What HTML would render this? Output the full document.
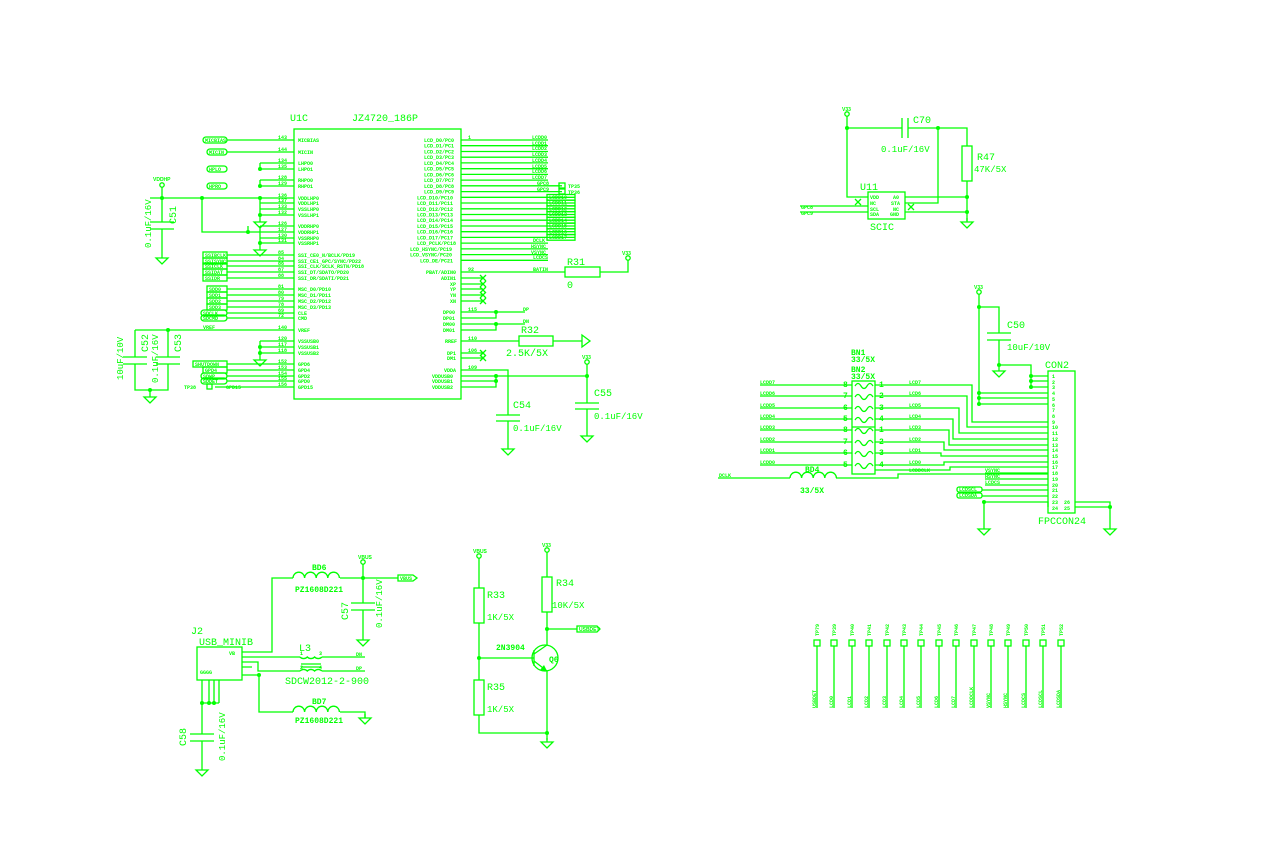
<!DOCTYPE html>
<html><head><meta charset="utf-8"><style>
html,body{margin:0;padding:0;background:#fff;}
svg{display:block}
.l{stroke:#00ff00;stroke-width:1.3;fill:none}
.f{fill:#00ff00}
text{fill:#00ff00;font-family:"Liberation Mono","DejaVu Sans Mono",monospace}
.b{font-size:10px}
.s{font-size:5px;font-weight:bold;font-family:"Liberation Sans",sans-serif}
.m{font-size:8px;font-weight:bold}
</style></head><body>
<svg width="1280" height="850" viewBox="0 0 1280 850" xmlns="http://www.w3.org/2000/svg">
<defs>
<g id="gnd"><path class="l" d="M0 0 V4 M-6 4 H6 L0 10 Z"/></g>
<g id="pwr"><circle class="l" cx="0" cy="0" r="2.2"/></g>
<g id="dot"><circle class="f" cx="0" cy="0" r="2"/></g>
<g id="ind"><path class="l" d="M0 0 a5.8 5.8 0 0 1 11.6 0 a5.8 5.8 0 0 1 11.6 0 a5.8 5.8 0 0 1 11.6 0 a5.8 5.8 0 0 1 11.6 0"/></g>
</defs>

<text class="b" x="290" y="121">U1C</text>
<text class="b" x="352" y="121">JZ4720_186P</text>
<rect class="l" x="294" y="129" width="167" height="270"/>
<path class="l" d="M227 140H294M227 152H294M260 163H294M260 169H294M260 180H294M260 186H294M150 198H294M260 203H294M260 209H294M260 215H294M260 226H294M250 232H294M260 238H294M260 243H294M227 255H294M227 261H294M227 266H294M227 272H294M227 278H294M227 289H294M227 295H294M227 301H294M227 307H294M227 313H294M227 318H294M135 330H294M260 341H294M260 347H294M260 353H294M227 364H294M227 370H294M227 376H294M227 381H294M215 387H294"/>
<path class="l" d="M260 163V169M260 180V186M260 198V215M248 226V232M202 198V232H248M260 226V243M260 341V353M260 209V218M260 238V246M260 353V356"/>
<use href="#dot" x="260" y="169"/><use href="#dot" x="260" y="186"/><use href="#dot" x="260" y="198"/><use href="#dot" x="202" y="198"/><use href="#dot" x="162" y="198"/><use href="#dot" x="248" y="232"/><use href="#dot" x="260" y="215"/><use href="#dot" x="260" y="243"/><use href="#dot" x="260" y="347"/><use href="#dot" x="260" y="353"/><use href="#dot" x="168" y="330"/>
<use href="#gnd" x="260" y="218"/><use href="#gnd" x="260" y="246"/><use href="#gnd" x="260" y="356"/>
<g class="s">
<text x="298" y="142">MICBIAS</text><text x="298" y="154">MICIN</text><text x="298" y="165">LHPO0</text><text x="298" y="171">LHPO1</text><text x="298" y="182">RHPO0</text><text x="298" y="188">RHPO1</text><text x="298" y="200">VDDLHP0</text><text x="298" y="205">VDDLHP1</text><text x="298" y="211">VSSLHP0</text><text x="298" y="217">VSSLHP1</text><text x="298" y="228">VDDRHP0</text><text x="298" y="234">VDDRHP1</text><text x="298" y="240">VSSRHP0</text><text x="298" y="245">VSSRHP1</text><text x="298" y="257">SSI_CE0_N/BCLK/PD19</text><text x="298" y="263">SSI_CE1_GPC/SYNC/PD22</text><text x="298" y="268">SSI_CLK/SCLK_RSTN/PD18</text><text x="298" y="274">SSI_DT/SDATO/PD20</text><text x="298" y="280">SSI_DR/SDATI/PD21</text><text x="298" y="291">MSC_D0/PD10</text><text x="298" y="297">MSC_D1/PD11</text><text x="298" y="303">MSC_D2/PD12</text><text x="298" y="309">MSC_D3/PD13</text><text x="298" y="315">CLE</text><text x="298" y="320">CMD</text><text x="298" y="332">VREF</text><text x="298" y="343">VSSUSB0</text><text x="298" y="349">VSSUSB1</text><text x="298" y="355">VSSUSB2</text><text x="298" y="366">GPD6</text><text x="298" y="372">GPD4</text><text x="298" y="378">GPD2</text><text x="298" y="383">GPD0</text><text x="298" y="389">GPD15</text>
<text x="278" y="139">143</text><text x="278" y="151">144</text><text x="278" y="162">134</text><text x="278" y="168">135</text><text x="278" y="179">128</text><text x="278" y="185">129</text><text x="278" y="197">136</text><text x="278" y="202">137</text><text x="278" y="208">133</text><text x="278" y="214">132</text><text x="278" y="225">126</text><text x="278" y="231">127</text><text x="278" y="237">130</text><text x="278" y="242">131</text><text x="278" y="254">85</text><text x="278" y="260">84</text><text x="278" y="265">86</text><text x="278" y="271">87</text><text x="278" y="277">88</text><text x="278" y="288">81</text><text x="278" y="294">80</text><text x="278" y="300">79</text><text x="278" y="306">78</text><text x="278" y="312">69</text><text x="278" y="317">72</text><text x="278" y="329">140</text><text x="278" y="340">120</text><text x="278" y="346">117</text><text x="278" y="352">118</text><text x="278" y="363">152</text><text x="278" y="369">153</text><text x="278" y="375">154</text><text x="278" y="380">155</text><text x="278" y="386">156</text>
<text x="203" y="329">VREF</text><text x="226" y="389">GPD15</text><text x="184" y="389">TP38</text>
</g>
<g class="l">
<rect x="203" y="137" width="24" height="6" rx="3"/><rect x="207" y="149" width="20" height="6" rx="3"/><rect x="207" y="166" width="20" height="6" rx="3"/><rect x="207" y="183" width="20" height="6" rx="3"/>
<rect x="203" y="252" width="24" height="6"/><rect x="203" y="258" width="24" height="6"/><rect x="203" y="263" width="24" height="6"/><rect x="203" y="269" width="24" height="6"/><rect x="203" y="275" width="24" height="6"/>
<rect x="207" y="286" width="20" height="6"/><rect x="207" y="292" width="20" height="6"/><rect x="207" y="298" width="20" height="6"/><rect x="207" y="304" width="20" height="6"/><rect x="201" y="310" width="26" height="6" rx="3"/><rect x="201" y="315" width="26" height="6" rx="3"/>
<rect x="193" y="361" width="34" height="6"/><rect x="203" y="367" width="24" height="6"/><rect x="201" y="373" width="26" height="6" rx="3"/><rect x="201" y="378" width="26" height="6" rx="3"/><rect x="207" y="384" width="5" height="5"/>
</g>
<g class="s"><text x="205" y="142">MICBIAS</text><text x="209" y="154">MICIN</text><text x="209" y="171">HPLO</text><text x="209" y="188">HPRO</text>
<text x="205" y="257">SSIBCLK</text><text x="205" y="263">SSISYNC</text><text x="205" y="268">SSICLK</text><text x="205" y="274">SSIDAT</text><text x="205" y="280">SSIDR</text>
<text x="209" y="291">SDD0</text><text x="209" y="297">SDD1</text><text x="209" y="303">SDD2</text><text x="209" y="309">SDD3</text><text x="203" y="315">SDCLK</text><text x="203" y="320">SDCMD</text>
<text x="195" y="366">SHUTDOWN</text><text x="205" y="372">GPD4</text><text x="203" y="378">SDWP</text><text x="203" y="383">SDDET</text></g>

<use href="#pwr" x="162" y="185"/><text class="s" x="153" y="181">VDDHP</text>
<path class="l" d="M162 187V222M150 222H174M150 229H174M162 229V254"/><use href="#gnd" x="162" y="254"/>
<text class="b" transform="translate(176,224) rotate(-90)">C51</text>
<text class="b" style="font-size:9px" transform="translate(151,248) rotate(-90)">0.1uF/16V</text>
<path class="l" d="M135 330V357M123 357H147M123 364H147M135 364V390H168V364M156 357H180M156 364H180M168 330V357M150 390V393"/>
<use href="#gnd" x="150" y="393"/><use href="#dot" x="150" y="390"/>
<text class="b" transform="translate(148,352) rotate(-90)">C52</text>
<text class="b" transform="translate(181,352) rotate(-90)">C53</text>
<text class="b" style="font-size:9px" transform="translate(123,380) rotate(-90)">10uF/10V</text>
<text class="b" style="font-size:9px" transform="translate(158,383) rotate(-90)">0.1uF/16V</text>

<path class="l" d="M461 140H548M461 145.7H548M461 151.5H548M461 157.2H548M461 162.9H548M461 168.7H548M461 174.4H548M461 180.1H548M461 185.8H562M461 191.6H562M461 197.3H575M461 203H575M461 208.8H575M461 214.5H575M461 220.2H575M461 226H575M461 231.7H575M461 237.4H575M461 243.1H548M461 248.9H548M461 254.6H548M461 260.3H548"/>
<g class="l"><rect x="547" y="194.5" width="28" height="5.6"/><rect x="547" y="200.2" width="28" height="5.6"/><rect x="547" y="206" width="28" height="5.6"/><rect x="547" y="211.7" width="28" height="5.6"/><rect x="547" y="217.4" width="28" height="5.6"/><rect x="547" y="223.2" width="28" height="5.6"/><rect x="547" y="228.9" width="28" height="5.6"/><rect x="547" y="234.6" width="28" height="5.6"/><rect x="559" y="183" width="6" height="5"/><rect x="559" y="189" width="6" height="5"/></g>
<g class="s">
<text x="424" y="142">LCD_D0/PC0</text><text x="424" y="147.7">LCD_D1/PC1</text><text x="424" y="153.5">LCD_D2/PC2</text><text x="424" y="159.2">LCD_D3/PC3</text><text x="424" y="164.9">LCD_D4/PC4</text><text x="424" y="170.7">LCD_D5/PC5</text><text x="424" y="176.4">LCD_D6/PC6</text><text x="424" y="182.1">LCD_D7/PC7</text><text x="424" y="187.8">LCD_D8/PC8</text><text x="424" y="193.6">LCD_D9/PC9</text><text x="417" y="199.3">LCD_D10/PC10</text><text x="417" y="205">LCD_D11/PC11</text><text x="417" y="210.8">LCD_D12/PC12</text><text x="417" y="216.5">LCD_D13/PC13</text><text x="417" y="222.2">LCD_D14/PC14</text><text x="417" y="228">LCD_D15/PC15</text><text x="417" y="233.7">LCD_D16/PC16</text><text x="417" y="239.4">LCD_D17/PC17</text><text x="417" y="245.1">LCD_PCLK/PC18</text><text x="410" y="250.9">LCD_HSYNC/PC19</text><text x="410" y="256.6">LCD_VSYNC/PC20</text><text x="420" y="262.3">LCD_DE/PC21</text>
<text x="426" y="274">PBAT/ADIN0</text><text x="441" y="280">ADIN1</text><text x="450" y="286">XP</text><text x="450" y="291">YP</text><text x="450" y="297">YN</text><text x="450" y="303">XN</text><text x="443" y="314">DP00</text><text x="443" y="320">DP01</text><text x="443" y="326">DM00</text><text x="443" y="332">DM01</text><text x="445" y="343">RREF</text><text x="447" y="355">DP1</text><text x="447" y="360">DM1</text><text x="444" y="372">VDDA</text><text x="432" y="378">VDDUSB0</text><text x="432" y="383">VDDUSB1</text><text x="432" y="389">VDDUSB2</text>
<text x="532" y="139">LCDD0</text><text x="532" y="145">LCDD1</text><text x="532" y="150">LCDD2</text><text x="532" y="156">LCDD3</text><text x="532" y="162">LCDD4</text><text x="532" y="168">LCDD5</text><text x="532" y="173">LCDD6</text><text x="532" y="179">LCDD7</text><text x="537" y="185">GPC8</text><text x="537" y="191">GPC9</text><text x="568" y="188">TP35</text><text x="568" y="194">TP36</text>
<text x="549" y="199">LCDD10</text><text x="549" y="204.7">LCDD11</text><text x="549" y="210.5">LCDD12</text><text x="549" y="216.2">LCDD13</text><text x="549" y="221.9">LCDD14</text><text x="549" y="227.7">LCDD15</text><text x="549" y="233.4">LCDD16</text><text x="549" y="239.1">LCDD17</text>
<text x="533" y="242">DCLK</text><text x="531" y="248">HSYNC</text><text x="531" y="254">VSYNC</text><text x="533" y="259">LCDCS</text><text x="533" y="271">BATIN</text><text x="523" y="311">DP</text><text x="523" y="323">DN</text>
<text x="468" y="139">1</text><text x="468" y="271">92</text><text x="468" y="311">115</text><text x="468" y="340">110</text><text x="468" y="352">106</text><text x="468" y="369">109</text>
</g>
<path class="l" d="M480 275l6 6m0-6l-6 6M480 281l6 6m0-6l-6 6M480 287l6 6m0-6l-6 6M480 292l6 6m0-6l-6 6M480 298l6 6m0-6l-6 6M480 350l6 6m0-6l-6 6M480 355l6 6m0-6l-6 6"/>
<path class="l" d="M461 278H483M461 284H483M461 289H483M461 295H483M461 301H483M461 353H483M461 358H483"/>
<path class="l" d="M461 272H565M600 272H628V260"/><rect class="l" x="565" y="267" width="35" height="10"/>
<use href="#pwr" x="628" y="258"/><text class="s" x="622" y="255">V33</text>
<text class="b" x="567" y="265">R31</text><text class="b" x="567" y="288">0</text>
<path class="l" d="M461 312H525M461 318H496V312M461 324H525M461 330H496V324"/>
<use href="#dot" x="496" y="312"/><use href="#dot" x="496" y="324"/>
<path class="l" d="M461 341H519M553 341H582M582 335V347L590 341Z"/><rect class="l" x="519" y="336" width="34" height="10"/>
<text class="b" x="521" y="333">R32</text><text class="b" x="506" y="356">2.5K/5X</text>
<path class="l" d="M461 370H508V415M496 415H520M496 421H520M508 421V445M461 376H587M461 381H496V387H461M496 376V381M587 364V403M575 403H599M575 409H599M587 409V432"/>
<use href="#dot" x="496" y="376"/><use href="#dot" x="496" y="381"/><use href="#dot" x="587" y="376"/>
<use href="#gnd" x="508" y="445"/><use href="#gnd" x="587" y="432"/>
<use href="#pwr" x="587" y="362"/><text class="s" x="582" y="359">V33</text>
<text class="b" x="513" y="408">C54</text><text class="b" style="font-size:9px" x="513" y="431">0.1uF/16V</text>
<text class="b" x="594" y="396">C55</text><text class="b" style="font-size:9px" x="594" y="419">0.1uF/16V</text>

<use href="#pwr" x="847" y="114"/><text class="s" x="842" y="111">V33</text>
<path class="l" d="M847 116V197H868M847 128H902M908 128H967V146M902 118V138M908 118V138M938 128V203H905M967 181V221M905 197H967M905 212H967M800 206H868M800 212H868"/>
<rect class="l" x="868" y="192" width="37" height="27"/><rect class="l" x="962" y="146" width="10" height="35"/>
<use href="#dot" x="847" y="128"/><use href="#dot" x="938" y="128"/><use href="#dot" x="967" y="197"/><use href="#dot" x="967" y="212"/>
<use href="#gnd" x="967" y="218"/>
<path class="l" d="M855 199l6 6m0-6l-6 6M908 204l6 6m0-6l-6 6"/>
<g class="s"><text x="870" y="199">VDD</text><text x="870" y="205">NC</text><text x="870" y="211">SCL</text><text x="870" y="216">SDA</text><text x="893" y="199">A0</text><text x="891" y="205">STA</text><text x="893" y="211">NC</text><text x="890" y="216">GND</text><text x="801" y="209">GPC8</text><text x="801" y="215">GPC9</text></g>
<text class="b" x="860" y="190">U11</text><text class="b" x="870" y="230">SCIC</text>
<text class="b" x="913" y="123">C70</text><text class="b" style="font-size:9px" x="881" y="152">0.1uF/16V</text>
<text class="b" x="977" y="160">R47</text><text class="b" style="font-size:9px" x="974" y="172">47K/5X</text>

<use href="#pwr" x="979" y="292"/><text class="s" x="974" y="289">V33</text>
<path class="l" d="M979 294V405M979 307H999V333M987 333H1011M987 340H1011M999 340V365M999 365H1031V387M979 393H1048M979 398H1048M979 404H1048M1031 376H1048M1031 381H1048M1031 387H1048"/>
<use href="#dot" x="979" y="307"/><use href="#dot" x="999" y="365"/><use href="#dot" x="979" y="393"/><use href="#dot" x="979" y="398"/><use href="#dot" x="979" y="404"/><use href="#dot" x="1031" y="376"/><use href="#dot" x="1031" y="381"/><use href="#dot" x="1031" y="387"/>
<use href="#gnd" x="999" y="367"/>
<text class="b" x="1007" y="328">C50</text><text class="b" style="font-size:9px" x="1007" y="350">10uF/10V</text>
<rect class="l" x="1048" y="371" width="27" height="142"/>
<text class="b" x="1045" y="368">CON2</text><text class="b" x="1038" y="524">FPCCON24</text>
<g class="s"><text x="1052" y="378">1</text><text x="1052" y="384">2</text><text x="1052" y="389">3</text><text x="1052" y="395">4</text><text x="1052" y="401">5</text><text x="1052" y="407">6</text><text x="1052" y="412">7</text><text x="1052" y="418">8</text><text x="1052" y="424">9</text><text x="1052" y="429">10</text><text x="1052" y="435">11</text><text x="1052" y="441">12</text><text x="1052" y="447">13</text><text x="1052" y="452">14</text><text x="1052" y="458">15</text><text x="1052" y="464">16</text><text x="1052" y="469">17</text><text x="1052" y="475">18</text><text x="1052" y="481">19</text><text x="1052" y="487">20</text><text x="1052" y="492">21</text><text x="1052" y="498">22</text><text x="1052" y="504">23</text><text x="1052" y="510">24</text><text x="1064" y="504">26</text><text x="1064" y="510">25</text></g>
<rect class="l" x="852" y="381" width="23" height="93"/><path class="l" d="M852 427H875"/>
<path class="l" d="M855 386q3-5 6 0t6 0t6 0M855 397q3-5 6 0t6 0t6 0M855 409q3-5 6 0t6 0t6 0M855 420q3-5 6 0t6 0t6 0M855 431q3-5 6 0t6 0t6 0M855 443q3-5 6 0t6 0t6 0M855 454q3-5 6 0t6 0t6 0M855 466q3-5 6 0t6 0t6 0"/>
<path class="l" d="M760 385H852M760 396H852M760 408H852M760 419H852M760 430H852M760 442H852M760 453H852M760 465H852"/>
<path class="l" d="M875 385H972V422H1048M875 396H967V427H1048M875 408H959V433H1048M875 419H953V439H1048M875 430H949V445H1048M875 442H944V450H1048M875 453H941V456H1048M875 465H944V462H1048M875 470H950V467H1048"/>
<path class="l" d="M718 478H790M836 478H898V474H1048M985 473H1048M985 479H1048M985 485H1048M982 490H1048M982 496H1048M984 502H1048V507M984 502V525M1075 502H1110V525M1075 507H1110"/>
<use href="#ind" x="790" y="478"/><use href="#dot" x="984" y="502"/><use href="#dot" x="1110" y="507"/>
<use href="#gnd" x="984" y="525"/><use href="#gnd" x="1110" y="525"/>
<g class="l"><rect x="957" y="487" width="25" height="5" rx="2"/><rect x="957" y="493" width="25" height="5" rx="2"/></g>
<g class="s"><text x="760" y="384">LCDD7</text><text x="760" y="395">LCDD6</text><text x="760" y="407">LCDD5</text><text x="760" y="418">LCDD4</text><text x="760" y="429">LCDD3</text><text x="760" y="441">LCDD2</text><text x="760" y="452">LCDD1</text><text x="760" y="464">LCDD0</text>
<text x="909" y="384">LCD7</text><text x="909" y="395">LCD6</text><text x="909" y="407">LCD5</text><text x="909" y="418">LCD4</text><text x="909" y="429">LCD3</text><text x="909" y="441">LCD2</text><text x="909" y="452">LCD1</text><text x="909" y="464">LCD0</text><text x="909" y="472">LCDDCLK</text>
<text x="719" y="477">DCLK</text><text x="985" y="472">VSYNC</text><text x="985" y="478">HSYNC</text><text x="985" y="484">LCDCS</text><text x="959" y="491">LCDSCL</text><text x="959" y="497">LCDSDA</text></g>
<g class="m"><text x="843" y="387">8</text><text x="843" y="398">7</text><text x="843" y="410">6</text><text x="843" y="421">5</text><text x="843" y="432">8</text><text x="843" y="444">7</text><text x="843" y="455">6</text><text x="843" y="467">5</text>
<text x="879" y="387">1</text><text x="879" y="398">2</text><text x="879" y="410">3</text><text x="879" y="421">4</text><text x="879" y="432">1</text><text x="879" y="444">2</text><text x="879" y="455">3</text><text x="879" y="467">4</text>
<text x="851" y="355">BN1</text><text x="851" y="362">33/5X</text><text x="851" y="372">BN2</text><text x="851" y="379">33/5X</text><text x="805" y="472">BD4</text><text x="800" y="493">33/5X</text></g>

<rect class="l" x="197" y="647" width="45" height="33"/>
<text class="b" x="191" y="634">J2</text><text class="b" x="199" y="645">USB_MINIB</text>
<path class="l" d="M242 652H272V578H293M340 578H398M242 657H300M322 657H365M242 662H258V671H300M322 671H365M242 667H252M242 675H259V712H293M340 712H365V718M363 564V603M351 603H375M351 610H375M363 610V636M301 664H321M301 667H321"/>
<use href="#ind" x="293" y="578"/><use href="#ind" x="293" y="712"/>
<path class="l" d="M300 657a5 5 0 0 0 7.3 0a5 5 0 0 0 7.3 0a5 5 0 0 0 7.3 0M300 671a5 5 0 0 1 7.3 0a5 5 0 0 1 7.3 0a5 5 0 0 1 7.3 0"/>
<path class="l" d="M398 575H413L417 578L413 581H398Z"/>
<use href="#dot" x="363" y="578"/><use href="#dot" x="259" y="675"/>
<use href="#pwr" x="363" y="562"/><text class="s" x="358" y="559">VBUS</text>
<use href="#gnd" x="363" y="636"/><use href="#gnd" x="365" y="714"/>
<!-- C58 -->
<line class="l" x1="202" y1="680" x2="202" y2="734"/>
<line class="l" x1="209" y1="680" x2="209" y2="703"/>
<line class="l" x1="214" y1="680" x2="214" y2="703"/>
<line class="l" x1="219" y1="680" x2="219" y2="703"/>
<line class="l" x1="202" y1="703" x2="219" y2="703"/>
<line class="l" x1="190" y1="734" x2="214" y2="734"/>
<line class="l" x1="190" y1="741" x2="214" y2="741"/>
<line class="l" x1="202" y1="741" x2="202" y2="770"/>
<path class="l" d="M196 770H208L202 776Z"/>
<circle class="f" cx="202" cy="703" r="2"/><circle class="f" cx="209" cy="703" r="2"/><circle class="f" cx="214" cy="703" r="2"/>
<g class="s"><text x="400" y="580">VBUS</text><text x="356" y="656">DN</text><text x="356" y="670">DP</text><text x="229" y="655">VB</text><text x="300" y="655">1</text><text x="319" y="655">3</text><text x="300" y="669">2</text><text x="319" y="669">4</text><text x="200" y="674">GGGG</text></g>
<text class="m" x="312" y="570">BD6</text><text class="m" x="295" y="592">PZ1608D221</text>
<text class="m" x="312" y="704">BD7</text><text class="m" x="295" y="723">PZ1608D221</text>
<text class="b" x="299" y="651">L3</text><text class="b" x="285" y="684">SDCW2012-2-900</text>
<text class="b" transform="translate(348,620) rotate(-90)">C57</text>
<text class="b" style="font-size:9px" transform="translate(382,628) rotate(-90)">0.1uF/16V</text>
<text class="b" transform="translate(186,746) rotate(-90)">C58</text>
<text class="b" style="font-size:9px" transform="translate(225,761) rotate(-90)">0.1uF/16V</text>

<use href="#pwr" x="479" y="556"/><text class="s" x="473" y="553">VBUS</text>
<use href="#pwr" x="547" y="550"/><text class="s" x="542" y="547">V33</text>
<path class="l" d="M479 558V588M479 623V680M479 715V733H547M479 658H534M547 552V577M547 612V645M547 629H577M547 671V740M534 650V666M534 654L547 645M534 661L547 671"/>
<path class="f" d="M547 671L540 670L544 665Z"/>
<rect class="l" x="474" y="588" width="10" height="35"/><rect class="l" x="474" y="680" width="10" height="35"/><rect class="l" x="542" y="577" width="10" height="35"/>
<circle class="l" cx="545" cy="658" r="13"/>
<path class="l" d="M577 626H597L600 629L597 632H577Z"/>
<use href="#dot" x="479" y="658"/><use href="#dot" x="547" y="629"/><use href="#dot" x="547" y="733"/><use href="#gnd" x="547" y="738"/>
<text class="s" x="579" y="631">USBDET</text>
<text class="b" x="487" y="598">R33</text><text class="b" style="font-size:9px" x="487" y="620">1K/5X</text>
<text class="b" x="487" y="690">R35</text><text class="b" style="font-size:9px" x="487" y="712">1K/5X</text>
<text class="b" x="556" y="586">R34</text><text class="b" style="font-size:9px" x="552" y="608">10K/5X</text>
<text class="m" x="496" y="650">2N3904</text><text class="m" x="549" y="662">Q6</text>

<g class="l">
<rect x="814" y="640" width="6" height="6"/><rect x="831" y="640" width="6" height="6"/><rect x="849" y="640" width="6" height="6"/><rect x="866" y="640" width="6" height="6"/><rect x="884" y="640" width="6" height="6"/><rect x="901" y="640" width="6" height="6"/><rect x="918" y="640" width="6" height="6"/><rect x="936" y="640" width="6" height="6"/><rect x="953" y="640" width="6" height="6"/><rect x="971" y="640" width="6" height="6"/><rect x="988" y="640" width="6" height="6"/><rect x="1005" y="640" width="6" height="6"/><rect x="1023" y="640" width="6" height="6"/><rect x="1040" y="640" width="6" height="6"/><rect x="1058" y="640" width="6" height="6"/>
<path d="M817 646V708M834 646V708M852 646V708M869 646V708M887 646V708M904 646V708M921 646V708M939 646V708M956 646V708M974 646V708M991 646V708M1008 646V708M1026 646V708M1043 646V708M1061 646V708"/>
</g>
<g class="s">
<text transform="translate(819,636) rotate(-90)">TP79</text><text transform="translate(836,636) rotate(-90)">TP39</text><text transform="translate(854,636) rotate(-90)">TP40</text><text transform="translate(871,636) rotate(-90)">TP41</text><text transform="translate(889,636) rotate(-90)">TP42</text><text transform="translate(906,636) rotate(-90)">TP43</text><text transform="translate(923,636) rotate(-90)">TP44</text><text transform="translate(941,636) rotate(-90)">TP45</text><text transform="translate(958,636) rotate(-90)">TP46</text><text transform="translate(976,636) rotate(-90)">TP47</text><text transform="translate(993,636) rotate(-90)">TP48</text><text transform="translate(1010,636) rotate(-90)">TP49</text><text transform="translate(1028,636) rotate(-90)">TP50</text><text transform="translate(1045,636) rotate(-90)">TP51</text><text transform="translate(1063,636) rotate(-90)">TP52</text>
<text transform="translate(816,708) rotate(-90)">USBDET</text><text transform="translate(833,708) rotate(-90)">LCD0</text><text transform="translate(851,708) rotate(-90)">LCD1</text><text transform="translate(868,708) rotate(-90)">LCD2</text><text transform="translate(886,708) rotate(-90)">LCD3</text><text transform="translate(903,708) rotate(-90)">LCD4</text><text transform="translate(920,708) rotate(-90)">LCD5</text><text transform="translate(938,708) rotate(-90)">LCD6</text><text transform="translate(955,708) rotate(-90)">LCD7</text><text transform="translate(973,708) rotate(-90)">LCDDCLK</text><text transform="translate(990,708) rotate(-90)">VSYNC</text><text transform="translate(1007,708) rotate(-90)">HSYNC</text><text transform="translate(1025,708) rotate(-90)">LCDCS</text><text transform="translate(1042,708) rotate(-90)">LCDSCL</text><text transform="translate(1060,708) rotate(-90)">LCDSDA</text>
</g>
</svg>
</body></html>
